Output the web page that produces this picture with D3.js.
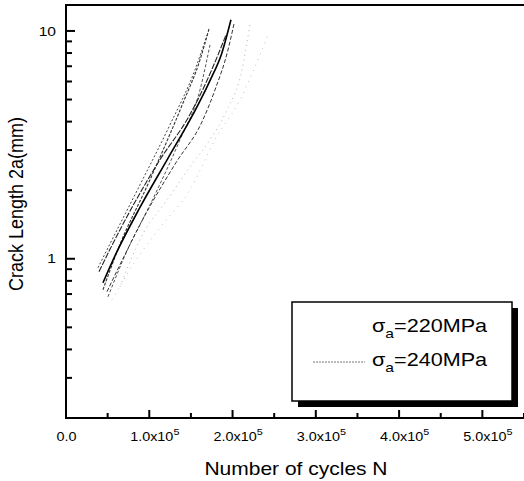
<!DOCTYPE html>
<html>
<head>
<meta charset="utf-8">
<script src="https://cdn.jsdelivr.net/npm/d3@7"></script>
<style>
  body { margin: 0; background: #fff; overflow: hidden; }
  svg { display: block; font-family: "Liberation Sans", Arial, sans-serif; }
</style>
</head>
<body>
<div id="chart"></div>
<script>
// crack growth curves, N (cycles) vs 2a (mm)
// 220 MPa specimens (right bundle, ends near 2.0x10^5)
const s220a = [[0.444e5,0.785],[0.588e5,1.03],[0.888e5,1.68],[1.224e5,2.76],[1.525e5,4.30],[1.729e5,6.05],[1.873e5,8.03],[1.981e5,11.2]];
const s220b = [[0.396e5,0.877],[0.528e5,1.10],[0.804e5,1.71],[1.128e5,2.72],[1.465e5,4.15],[1.669e5,5.80],[1.825e5,7.85],[1.921e5,9.60]];
const s220c = [[0.492e5,0.717],[0.648e5,0.941],[0.960e5,1.58],[1.320e5,2.64],[1.633e5,3.99],[1.789e5,5.51],[1.945e5,8.25],[2.017e5,10.73]];
// 240 MPa specimens (left bundle, ends near 1.7x10^5)
const s240a = [[0.444e5,0.731],[0.624e5,1.10],[1.008e5,2.22],[1.405e5,4.83],[1.609e5,7.46],[1.717e5,10.20]];
const s240b = [[0.384e5,0.913],[0.552e5,1.21],[0.888e5,2.11],[1.248e5,3.87],[1.549e5,6.75],[1.693e5,9.60]];
const s240c = [[0.504e5,0.681],[0.696e5,1.01],[1.068e5,1.91],[1.369e5,3.33],[1.609e5,5.51],[1.729e5,8.68]];
// faint traces on the right
const faintA = [[0.648e5,0.754],[0.936e5,1.31],[1.188e5,1.76],[1.525e5,2.64],[1.729e5,3.33],[1.933e5,4.50],[2.113e5,6.75],[2.209e5,10.73]];
const faintB = [[0.552e5,0.661],[0.828e5,0.970],[1.128e5,1.37],[1.489e5,2.01],[1.789e5,3.33],[2.089e5,4.98],[2.329e5,7.85],[2.425e5,9.60]];

const xMajor = [0, 1e5, 2e5, 3e5, 4e5, 5e5];
const xMinor = [0.5e5, 1.5e5, 2.5e5, 3.5e5, 4.5e5, 5.5e5];
const yMajor = [1, 10];
const yMinor = [0.2,0.3,0.4,0.5,0.6,0.7,0.8,0.9,2,3,4,5,6,7,8,9];
const legendLabels = ['220MPa', '240MPa'];

const width = 524, height = 481;
const mLeft = 66, mRight = 524, mTop = 5, mBottom = 418;
const SX = 1.2; // the scan is stretched sideways

const svg = d3.select('#chart').append('svg')
  .attr('width', width)
  .attr('height', height);

const x = d3.scaleLinear().domain([0, 5.5e5]).range([mLeft, mRight]);
const y = d3.scaleLog().domain([0.2, 13]).range([mBottom, mTop]);

const line = d3.line()
  .x(d => x(d[0]))
  .y(d => y(d[1]))
  .curve(d3.curveMonotoneX);

// curves
const styles = [
  {data: faintA, color: '#aaa', w: 0.9, dash: '1,4'},
  {data: faintB, color: '#bbb', w: 0.9, dash: '1,5'},
  {data: s240a, color: '#333', w: 1.1, dash: '3,1.5'},
  {data: s240b, color: '#444', w: 1, dash: '2,2'},
  {data: s240c, color: '#555', w: 1, dash: '3,2'},
  {data: s220a, color: '#000', w: 1.6, dash: null},
  {data: s220b, color: '#222', w: 1.1, dash: '6,1.5'},
  {data: s220c, color: '#333', w: 1, dash: '4,2'}
];

svg.append('g')
  .selectAll('path')
  .data(styles)
  .join('path')
  .attr('d', d => line(d.data))
  .attr('fill', 'none')
  .attr('stroke', d => d.color)
  .attr('stroke-width', d => d.w)
  .attr('stroke-dasharray', d => d.dash);

// tick labels from the axes
const xAxis = svg.append('g')
  .attr('transform', `translate(0,${mBottom})`)
  .call(d3.axisBottom(x).tickValues(xMajor).tickSize(0).tickPadding(14)
    .tickFormat(d => d === 0 ? '0.0' : (d / 1e5).toFixed(1) + 'x10'));

const yAxis = svg.append('g')
  .attr('transform', `translate(${mLeft},0)`)
  .call(d3.axisLeft(y).tickValues(yMajor).tickSize(0).tickPadding(10)
    .tickFormat(d3.format('d')));

svg.selectAll('.domain').remove();

xAxis.selectAll('text')
  .attr('font-size', 12)
  .attr('fill', '#000')
  .attr('transform', d => `translate(${d === 0 ? 0 : 5},0) scale(${SX},1)`)
  .each(function(d) {
    if (d !== 0) {
      d3.select(this).append('tspan')
        .attr('dy', -6)
        .attr('font-size', 9)
        .text('5');
    }
  });

yAxis.selectAll('text')
  .attr('font-size', 13)
  .attr('fill', '#000')
  .attr('x', -10 / SX)
  .attr('transform', `scale(${SX},1)`);

// tick marks, pointing into the plot
const ticks = svg.append('g').attr('stroke', '#000').attr('stroke-width', 2);
ticks.selectAll('line.xt')
  .data(xMajor.map(v => [v, 8]).concat(xMinor.map(v => [v, 5])))
  .join('line')
  .attr('class', 'xt')
  .attr('x1', d => x(d[0])).attr('x2', d => x(d[0]))
  .attr('y1', mBottom).attr('y2', d => mBottom - d[1]);
ticks.selectAll('line.yt')
  .data(yMajor.map(v => [v, 9]).concat(yMinor.map(v => [v, 6])))
  .join('line')
  .attr('class', 'yt')
  .attr('y1', d => y(d[0])).attr('y2', d => y(d[0]))
  .attr('x1', mLeft).attr('x2', d => mLeft + d[1]);

// frame (right side runs off the picture, as in the scan)
svg.append('rect')
  .attr('x', mLeft)
  .attr('y', mTop)
  .attr('width', mRight - mLeft + 12)
  .attr('height', mBottom - mTop)
  .attr('fill', 'none')
  .attr('stroke', '#000')
  .attr('stroke-width', 2);

// axis titles
svg.append('text')
  .attr('transform', `translate(296,475) scale(${SX},1)`)
  .attr('text-anchor', 'middle')
  .attr('font-size', 17.5)
  .text('Number of cycles N');

svg.append('text')
  .attr('transform', 'translate(23,204) rotate(-90) scale(1,1.15)')
  .attr('text-anchor', 'middle')
  .attr('font-size', 18)
  .text('Crack Length 2a(mm)');

// legend
const lg = svg.append('g').attr('transform', 'translate(292,302)');
lg.append('rect')
  .attr('x', 6).attr('y', 6)
  .attr('width', 220).attr('height', 99)
  .attr('fill', '#000');
lg.append('rect')
  .attr('width', 220).attr('height', 99)
  .attr('fill', '#fff')
  .attr('stroke', '#000')
  .attr('stroke-width', 1.5);

const rows = lg.selectAll('g.row')
  .data(legendLabels)
  .join('g')
  .attr('class', 'row')
  .attr('transform', (d, i) => `translate(0,${30 + i * 34})`);

rows.filter((d, i) => i === 1).append('line')
  .attr('x1', 21).attr('x2', 73)
  .attr('y1', -4).attr('y2', -4)
  .attr('stroke', '#777')
  .attr('stroke-width', 1)
  .attr('stroke-dasharray', '2,1');

const lt = rows.append('text')
  .attr('transform', `translate(80,0) scale(${SX},1)`)
  .attr('font-size', 18);
lt.append('tspan').text('σ');
lt.append('tspan').attr('dy', 6).attr('font-size', 13).text('a');
lt.append('tspan').attr('dy', -6).text(d => '=' + d);
</script>
</body>
</html>
